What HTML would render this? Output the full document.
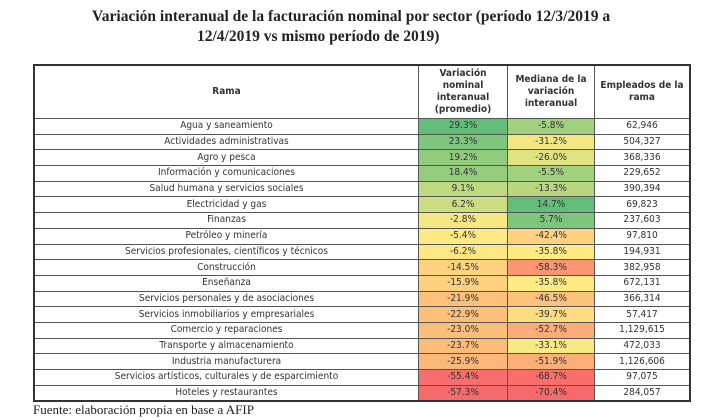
<!DOCTYPE html>
<html><head><meta charset="utf-8"><style>
body{margin:0;width:703px;height:420px;background:#fff;overflow:hidden;position:relative;font-family:"DejaVu Sans Condensed","Liberation Sans",sans-serif}
.t{position:absolute;font-family:"Liberation Serif",serif;font-weight:bold;font-size:15.5px;color:#222;white-space:nowrap}
table{position:absolute;left:33px;top:64px;border-collapse:collapse;border:2px solid #333}
td,th{border:1px solid #555;padding:0;text-align:center;font-size:10px;color:#333;font-weight:normal;font-stretch:condensed}
th{font-weight:bold;height:52px;line-height:12px;font-size:10px}
td{height:14.7px;line-height:14px}
.f{position:absolute;left:33px;top:402px;font-family:"Liberation Serif",serif;font-size:13px;color:#222}
</style></head><body>
<div class="t" style="left:92px;top:8px">Variación interanual de la facturación nominal por sector (período 12/3/2019 a</div>
<div class="t" style="left:197px;top:28px">12/4/2019 vs mismo período de 2019)</div>
<table id="tb">
<tr><th style="width:383px">Rama</th><th style="width:88px">Variación nominal interanual (promedio)</th><th style="width:86px">Mediana de la variación interanual</th><th style="width:94px">Empleados de la rama</th></tr>
</table>
<div class="f">Fuente: elaboración propia en base a AFIP</div>
<script>
var d=[["Agua y saneamiento",29.3,-5.8,"62,946"],["Actividades administrativas",23.3,-31.2,"504,327"],["Agro y pesca",19.2,-26.0,"368,336"],["Información y comunicaciones",18.4,-5.5,"229,652"],["Salud humana y servicios sociales",9.1,-13.3,"390,394"],["Electricidad y gas",6.2,14.7,"69,823"],["Finanzas",-2.8,5.7,"237,603"],["Petróleo y minería",-5.4,-42.4,"97,810"],["Servicios profesionales, científicos y técnicos",-6.2,-35.8,"194,931"],["Construcción",-14.5,-58.3,"382,958"],["Enseñanza",-15.9,-35.8,"672,131"],["Servicios personales y de asociaciones",-21.9,-46.5,"366,314"],["Servicios inmobiliarios y empresariales",-22.9,-39.7,"57,417"],["Comercio y reparaciones",-23.0,-52.7,"1,129,615"],["Transporte y almacenamiento",-23.7,-33.1,"472,033"],["Industria manufacturera",-25.9,-51.9,"1,126,606"],["Servicios artísticos, culturales y de esparcimiento",-55.4,-68.7,"97,075"],["Hoteles y restaurantes",-57.3,-70.4,"284,057"]];
var G=[99,190,123],Y=[255,235,132],R=[248,105,107];
function mix(a,b,t){return "rgb("+a.map(function(v,i){return Math.round(v+(b[i]-v)*t)}).join(",")+")"}
function col(v,mn,md,mx){return v>=md?mix(Y,G,(v-md)/(mx-md)):mix(R,Y,(v-mn)/(md-mn))}
var tb=document.getElementById("tb"),h="";
d.forEach(function(r){h+="<tr><td>"+r[0]+"</td><td style='background:"+col(r[1],-57.3,-5,29.3)+"'>"+r[1].toFixed(1)+"%</td><td style='background:"+col(r[2],-70.4,-35.8,14.7)+"'>"+r[2].toFixed(1)+"%</td><td>"+r[3]+"</td></tr>"});
tb.insertAdjacentHTML("beforeend",h);
</script>
</body></html>
